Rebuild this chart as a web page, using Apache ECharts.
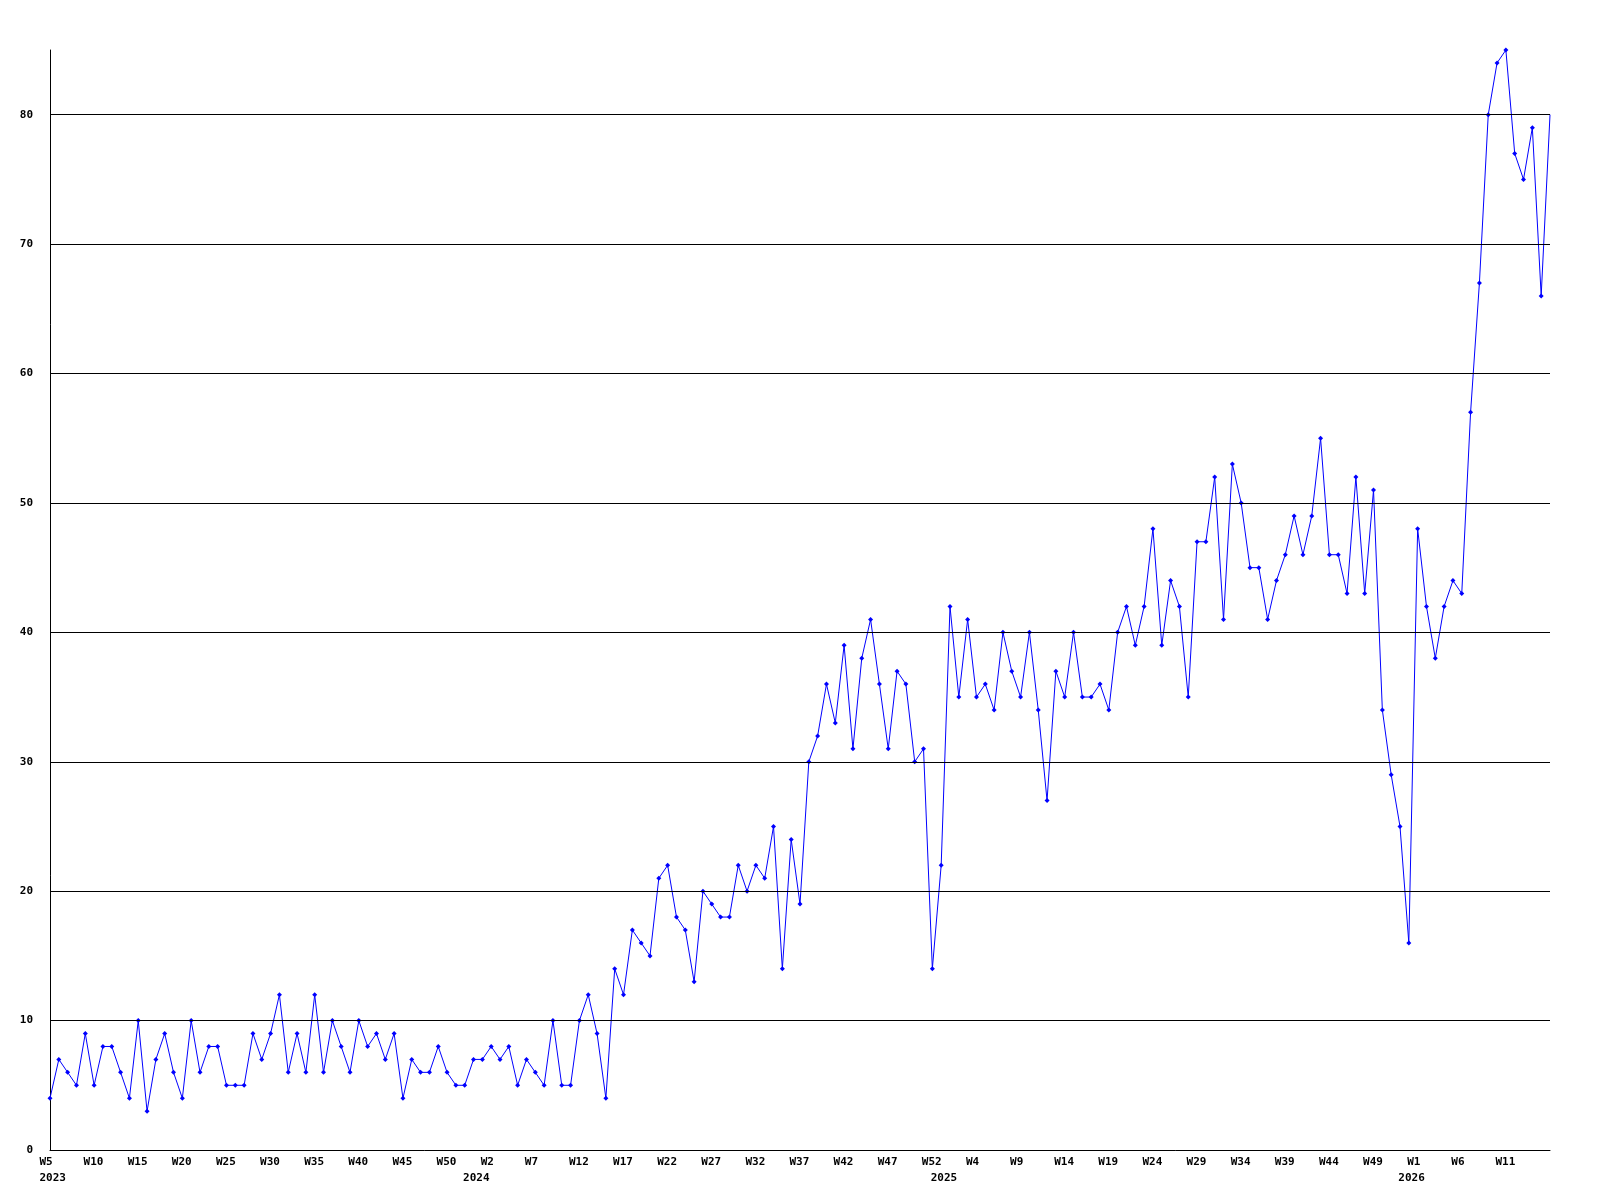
<!DOCTYPE html>
<html>
<head>
<meta charset="utf-8">
<script src="https://cdn.jsdelivr.net/npm/echarts@6/dist/echarts.min.js"></script>
<style>
html,body{margin:0;padding:0;background:#fff;}
#chart{width:1600px;height:1200px;}
</style>
</head>
<body>
<div id="chart"></div>
<script>
// Week ranges per year: [year, firstWeek, lastWeek]
const yearSegments = [[2023, 5, 53], [2024, 1, 53], [2025, 1, 53], [2026, 1, 16]];

// Weekly values
const values2023 = [4,7,6,5,9,5,8,8,6,4, 10,3,7,9,6,4,10,6,8,8, 5,5,5,9,7,9,12,6,9,6, 12,6,10,8,6,10,8,9,7,9, 4,7,6,6,8,6,5,5,7];
const values2024 = [7,8,7,8,5,7,6,5,10,5, 5,10,12,9,4,14,12,17,16,15, 21,22,18,17,13,20,19,18,18,22, 20,22,21,25,14,24,19,30,32,36, 33,39,31,38,41,36,31,37,36,30, 31,14,22];
const values2025 = [42,35,41,35,36,34,40,37,35,40, 34,27,37,35,40,35,35,36,34,40, 42,39,42,48,39,44,42,35,47,47, 52,41,53,50,45,45,41,44,46,49, 46,49,55,46,46,43,52,43,51,34, 29,25,16];
const values2026 = [48,42,38,42,44,43,57,67,80,84,85,77,75,79,66,80];

const yTicks = [0,10,20,30,40,50,60,70,80];
// Year labels: [year, category name where the year label sits]
const yearLabels = [[2023, 'W5|2023'], [2024, 'W53|2023'], [2025, 'W53|2024'], [2026, 'W53|2025']];

// Build categories
const categories = [];
yearSegments.forEach(([yr, a, b]) => {
  for (let w = a; w <= b; w++) categories.push({week: 'W' + w, year: yr});
});
const catNames = categories.map(c => c.week + '|' + c.year);
const seriesData = [].concat(values2023, values2024, values2025, values2026);
const yearAt = {};
yearLabels.forEach(([yr, name]) => { yearAt[catNames.indexOf(name)] = yr; });

const chart = echarts.init(document.getElementById('chart'), null, {renderer: 'canvas'});
const FONT = '"DejaVu Sans Mono", "Liberation Mono", monospace';
const richA = {a: {width: 21, align: 'left', fontFamily: FONT, fontWeight: 'bold', fontSize: 11, color: '#000', lineHeight: 14}};
chart.setOption({
  animation: false,
  backgroundColor: '#ffffff',
  grid: {left: 50, right: 50, top: 50, bottom: 50, containLabel: false},
  xAxis: [{
    type: 'category',
    data: catNames,
    boundaryGap: false,
    axisLine: {show: true, lineStyle: {color: '#000', width: 1}},
    axisTick: {show: false},
    splitLine: {show: false},
    axisLabel: {
      interval: function (idx) { return idx % 5 === 0 && idx < categories.length - 1; },
      margin: 5,
      align: 'center',
      formatter: function (val, idx) { return '{a|' + categories[idx].week + '}'; },
      rich: richA
    }
  }, {
    type: 'category',
    data: catNames,
    boundaryGap: false,
    position: 'bottom',
    offset: 0,
    axisLine: {show: false},
    axisTick: {show: false},
    splitLine: {show: false},
    axisLabel: {
      interval: function (idx) { return yearAt[idx] !== undefined; },
      margin: 21,
      align: 'center',
      formatter: function (val, idx) { return '{a|' + yearAt[idx] + '}'; },
      rich: richA
    }
  }],
  yAxis: {
    type: 'value',
    min: 0,
    max: 85,
    interval: 10,
    axisLine: {show: true, lineStyle: {color: '#000', width: 1}},
    axisTick: {show: false},
    splitLine: {show: false},
    axisLabel: {
      margin: 17,
      fontFamily: FONT, fontWeight: 'bold', fontSize: 11, color: '#000',
      formatter: function (v) { return yTicks.indexOf(v) >= 0 ? String(v) : ''; }
    }
  },
  series: [{
    type: 'line',
    data: seriesData,
    xAxisIndex: 0,
    z: 1,
    silent: true,
    symbol: 'none',
    lineStyle: {opacity: 0},
    markLine: {
      silent: true,
      symbol: ['none', 'none'],
      label: {show: false},
      lineStyle: {color: '#000', width: 1, type: 'solid'},
      data: yTicks.filter(v => v > 0).map(v => ({yAxis: v}))
    }
  }, {
    type: 'line',
    data: seriesData,
    xAxisIndex: 0,
    z: 3,
    symbol: function (value, params) { return params.dataIndex === seriesData.length - 1 ? 'none' : 'diamond'; },
    symbolSize: 5,
    showSymbol: true,
    lineStyle: {color: '#0000ff', width: 1},
    itemStyle: {color: '#0000ff'}
  }]
});
</script>
</body>
</html>
